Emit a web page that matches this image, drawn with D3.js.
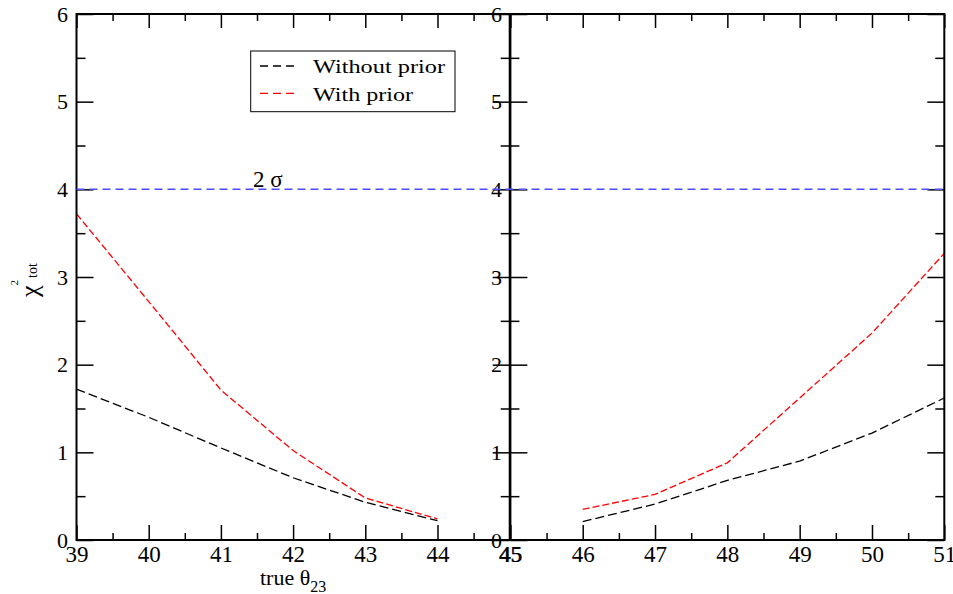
<!DOCTYPE html>
<html>
<head>
<meta charset="utf-8">
<script src="https://cdn.jsdelivr.net/npm/d3@7"></script>
<style>
  html, body { margin: 0; padding: 0; background: #fff; }
  svg { display: block; }
  text { font-family: "Liberation Serif", "Times New Roman", serif; fill: #000; }
</style>
</head>
<body>
<svg id="chart" width="953" height="594"></svg>
<script>
// true theta_23 values (degrees) and chi^2 for the lower and upper octant
const lowerTheta = [39, 40, 41, 42, 43, 44];
const lowerWithoutPrior = [1.72, 1.40, 1.05, 0.71, 0.43, 0.22];
const lowerWithPrior = [3.72, 2.72, 1.71, 1.02, 0.48, 0.24];

const upperTheta = [46, 47, 48, 49, 50, 51];
const upperWithoutPrior = [0.21, 0.41, 0.68, 0.90, 1.22, 1.62];
const upperWithPrior = [0.35, 0.52, 0.88, 1.62, 2.36, 3.27];

const lowerDomain = [39, 45];
const upperDomain = [45, 51];
const yDomain = [0, 6];
const yMajorTicks = [0, 1, 2, 3, 4, 5, 6];
const yMinorTicks = [0.5, 1.5, 2.5, 3.5, 4.5, 5.5];
const lowerMajorTicks = [39, 40, 41, 42, 43, 44, 45];
const lowerMinorTicks = [39.5, 40.5, 41.5, 42.5, 43.5, 44.5];
const upperMajorTicks = [45, 46, 47, 48, 49, 50, 51];
const upperMinorTicks = [45.5, 46.5, 47.5, 48.5, 49.5, 50.5];

const sigmaLevel = 4;
const seriesNames = ["Without prior", "With prior"];
const seriesColors = ["#000000", "#ff0000"];
const seriesDash = ["9,4", "7,3"];

const FONT = '"Liberation Serif", "Times New Roman", serif';
const svg = d3.select("#chart");
const plotTop = 14, plotBottom = 540;
const y = d3.scaleLinear().domain(yDomain).range([plotBottom, plotTop]);

function drawPanel(domain, range, majors, minors, thetas, seriesList) {
  const x = d3.scaleLinear().domain(domain).range(range);
  const g = svg.append("g");
  const [x0, x1] = range;

  // data curves
  seriesList.forEach((vals, i) => {
    const line = d3.line().x((d, k) => x(thetas[k])).y(d => y(d));
    g.append("path")
      .datum(vals)
      .attr("d", line)
      .attr("fill", "none")
      .attr("stroke", seriesColors[i])
      .attr("stroke-width", 1.3)
      .attr("stroke-dasharray", seriesDash[i]);
  });

  // bottom axis (ticks point inward)
  const bMaj = g.append("g").attr("transform", `translate(0,${plotBottom})`)
    .call(d3.axisBottom(x).tickValues(majors).tickFormat(d3.format("d"))
      .tickSizeInner(-15).tickSizeOuter(0).tickPadding(6));
  bMaj.attr("font-family", FONT).attr("font-size", 23);
  g.append("g").attr("transform", `translate(0,${plotBottom})`)
    .call(d3.axisBottom(x).tickValues(minors).tickFormat("")
      .tickSizeInner(-7).tickSizeOuter(0));

  // top axis
  g.append("g").attr("transform", `translate(0,${plotTop})`)
    .call(d3.axisTop(x).tickValues(majors).tickFormat("")
      .tickSizeInner(-14).tickSizeOuter(0));
  g.append("g").attr("transform", `translate(0,${plotTop})`)
    .call(d3.axisTop(x).tickValues(minors).tickFormat("")
      .tickSizeInner(-7).tickSizeOuter(0));

  // left axis with labels
  const lMaj = g.append("g").attr("transform", `translate(${x0},0)`)
    .call(d3.axisLeft(y).tickValues(yMajorTicks).tickFormat(d3.format("d"))
      .tickSizeInner(-17).tickSizeOuter(0).tickPadding(8.5));
  lMaj.attr("font-family", FONT).attr("font-size", 22);
  g.append("g").attr("transform", `translate(${x0},0)`)
    .call(d3.axisLeft(y).tickValues(yMinorTicks).tickFormat("")
      .tickSizeInner(-9).tickSizeOuter(0));

  // right axis
  g.append("g").attr("transform", `translate(${x1},0)`)
    .call(d3.axisRight(y).tickValues(yMajorTicks).tickFormat("")
      .tickSizeInner(-17).tickSizeOuter(0));
  g.append("g").attr("transform", `translate(${x1},0)`)
    .call(d3.axisRight(y).tickValues(yMinorTicks).tickFormat("")
      .tickSizeInner(-9).tickSizeOuter(0));

  g.selectAll(".domain").remove();
  g.selectAll(".tick line").attr("stroke", "#000").attr("stroke-width", 1.5);
  g.selectAll(".tick text").attr("fill", "#000");

  // frame
  g.append("rect")
    .attr("x", x0).attr("y", plotTop)
    .attr("width", x1 - x0).attr("height", plotBottom - plotTop)
    .attr("fill", "none").attr("stroke", "#000").attr("stroke-width", 2);

  return x;
}

const xLower = drawPanel(lowerDomain, [76.5, 509.7], lowerMajorTicks, lowerMinorTicks,
  lowerTheta, [lowerWithoutPrior, lowerWithPrior]);
const xUpper = drawPanel(upperDomain, [510.4, 944.3], upperMajorTicks, upperMinorTicks,
  upperTheta, [upperWithoutPrior, upperWithPrior]);

// 2 sigma reference line across both panels
svg.append("line")
  .attr("x1", xLower(lowerDomain[0])).attr("x2", xUpper(upperDomain[1]))
  .attr("y1", y(sigmaLevel)).attr("y2", y(sigmaLevel))
  .attr("stroke", "#4d4dff").attr("stroke-width", 1.5)
  .attr("stroke-dasharray", "8,5");

svg.append("text")
  .attr("x", 253).attr("y", y(sigmaLevel) - 2)
  .style("font-size", "23px")
  .text("2 σ");

// legend
const lg = svg.append("g");
const legendTextWidths = [132, 100];
lg.append("rect")
  .attr("x", 250.7).attr("y", 51).attr("width", 204.3).attr("height", 60.7)
  .attr("fill", "#fff").attr("stroke", "#000").attr("stroke-width", 1);
seriesNames.forEach((name, i) => {
  const ly = 66 + i * 27.3;
  lg.append("line")
    .attr("x1", 260).attr("x2", 296).attr("y1", ly).attr("y2", ly)
    .attr("stroke", seriesColors[i]).attr("stroke-width", 1.3)
    .attr("stroke-dasharray", "8,5");
  lg.append("text")
    .attr("x", 313).attr("y", ly + 7.3)
    .attr("textLength", legendTextWidths[i])
    .attr("lengthAdjust", "spacingAndGlyphs")
    .style("font-size", "19px")
    .text(name);
});

// x axis title
const xt = svg.append("text")
  .attr("x", (xLower.range()[0] + xLower.range()[1]) / 2)
  .attr("y", 585)
  .attr("text-anchor", "middle")
  .style("font-size", "22px");
xt.append("tspan").text("true θ");
xt.append("tspan").attr("dy", 7).style("font-size", "16px").text("23");

// y axis title
const yt = svg.append("text")
  .attr("transform", "translate(38,297) rotate(-90)")
  .style("font-size", "26px");
yt.append("tspan").text("χ");
yt.append("tspan").attr("dy", -20).style("font-size", "11px").text("2");
yt.append("tspan").attr("dy", 19).attr("dx", 2).style("font-size", "14px").text("tot");
</script>
</body>
</html>
